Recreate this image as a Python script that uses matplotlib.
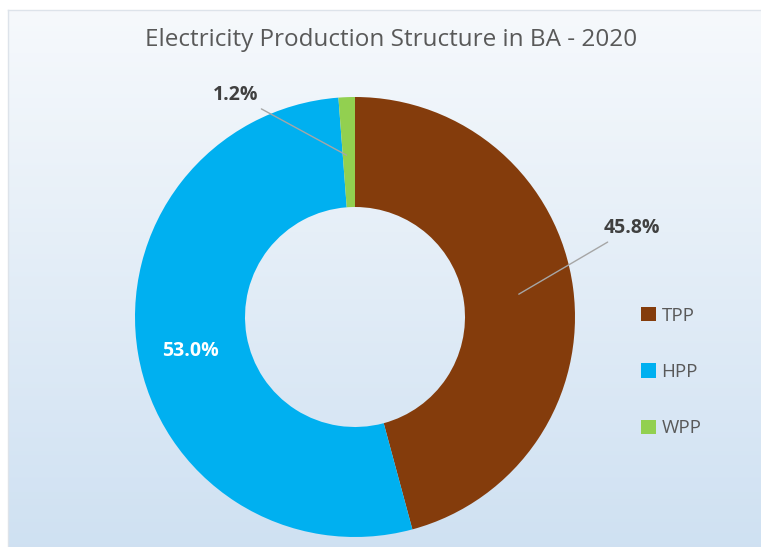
import numpy as np
import matplotlib.pyplot as plt

title = "Electricity Production Structure in BA - 2020"
labels = ["TPP", "HPP", "WPP"]
shares = [45.8, 53.0, 1.2]
colors = ["#843C0C", "#00B0F0", "#92D050"]

plt.rcParams['font.family'] = ['Open Sans', 'DejaVu Sans']

W, H = 761, 547
fig = plt.figure(figsize=(W / 100, H / 100), dpi=100)
fig.patch.set_facecolor("white")

# gradient panel
bg = fig.add_axes([8 / W, 0, 1 - 8 / W, (H - 10) / H])
grad = np.linspace(0, 1, 256).reshape(-1, 1)
top = np.array([0.965, 0.976, 0.988])
bot = np.array([0.812, 0.882, 0.949])
img = top + (bot - top) * grad[..., None]
bg.imshow(img, aspect="auto", extent=[0, 1, 0, 1])
bg.set_xticks([])
bg.set_yticks([])
for k, s in bg.spines.items():
    s.set_color("#dde3ea")
    s.set_linewidth(1)
    if k in ("right", "bottom"):
        s.set_visible(False)

fig.text(391 / W, 1 - 40 / H, title, ha="center", va="center",
         fontsize=17.5, color="#595959")

# donut
cx, cy, r = 355, H - 317, 220
ax = fig.add_axes([(cx - r) / W, (cy - r) / H, 2 * r / W, 2 * r / H])
ax.set_facecolor("none")
wedges, _ = ax.pie(shares, colors=colors, startangle=90, counterclock=False,
                   radius=1, wedgeprops=dict(width=0.5, edgecolor="none"))
ax.set_xlim(-1, 1)
ax.set_ylim(-1, 1)
ax.set_aspect("equal")
ax.axis("off")

ang = 90
mids = []
for v in shares:
    mids.append(np.deg2rad(ang - v * 3.6 / 2))
    ang -= v * 3.6

lbl_kw = dict(fontsize=14, fontweight="bold", color="#404040")
line_kw = dict(arrowstyle="-", color="#a6a6a6", lw=1)

# TPP
a = mids[0]
ax.annotate(f"{shares[0]:.1f}%", xy=(0.74 * np.cos(a), 0.74 * np.sin(a)),
            xytext=(1.13, 0.405), ha="left", va="center",
            arrowprops=line_kw, **lbl_kw)
# HPP
a = mids[1]
ax.text(0.75 * np.cos(a) - 0.01, 0.75 * np.sin(a) - 0.03, f"{shares[1]:.1f}%",
        ha="center", va="center", fontsize=14, fontweight="bold", color="white")
# WPP
a = mids[2]
ax.annotate(f"{shares[2]:.1f}%", xy=(0.73 * np.cos(a), 0.73 * np.sin(a)),
            xytext=(-0.44, 1.01), ha="right", va="center",
            arrowprops=line_kw, **lbl_kw)

fig.legend(wedges, labels, loc="center left",
           bbox_to_anchor=(624 / W, 1 - 372 / H), frameon=False,
           handlelength=0.8, handleheight=0.8, handletextpad=0.3,
           labelspacing=2.05, fontsize=13.5, labelcolor="#595959")

fig.savefig("out.png", dpi=100)
